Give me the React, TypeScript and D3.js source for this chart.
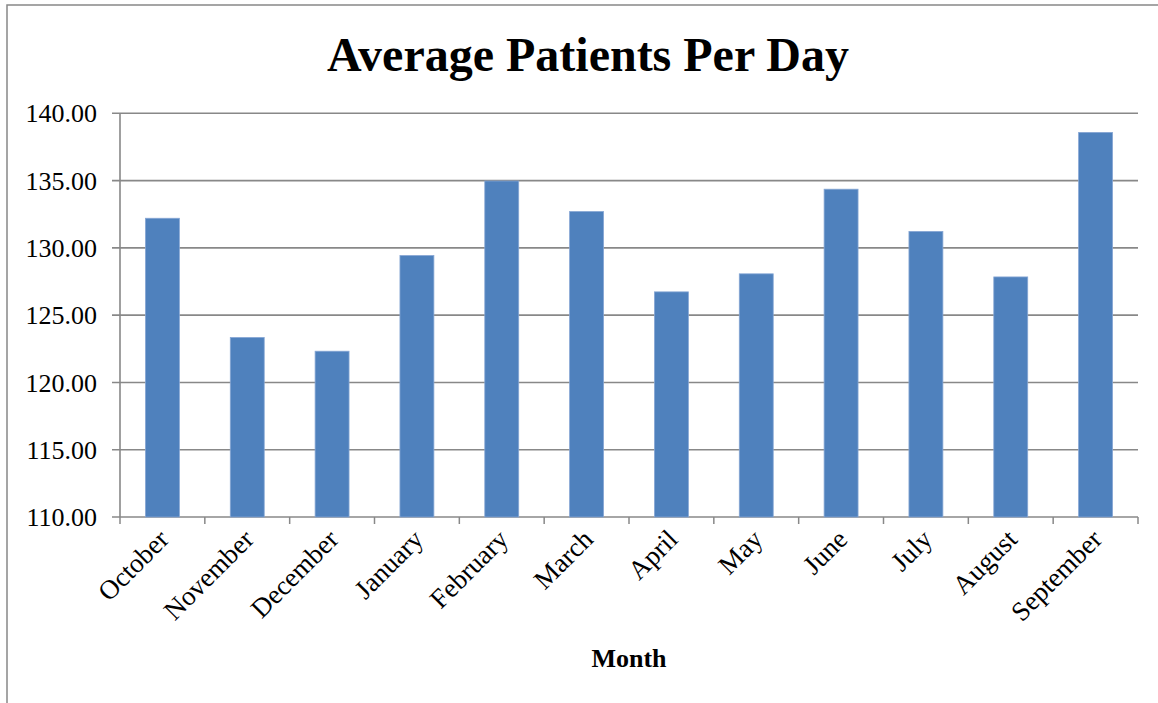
import React from "react";
import * as d3 from "d3";

const months = ["October", "November", "December", "January", "February", "March", "April", "May", "June", "July", "August", "September"];
const patients = [132.2, 123.34, 122.32, 129.43, 134.97, 132.7, 126.73, 128.07, 134.36, 131.22, 127.84, 138.58];
const yTicks = [110, 115, 120, 125, 130, 135, 140];
const title = "Average Patients Per Day";
const xTitle = "Month";

export default function App() {
  const W = 1158, H = 703;
  const left = 120, right = 1138, top = 113.3, bottom = 517;
  const x = d3.scaleBand<string>().domain(months).range([left, right]).paddingInner(0).paddingOuter(0);
  const y = d3.scaleLinear().domain([110, 140]).range([bottom, top]);
  const bw = x.bandwidth() * 0.4;
  const grid = "#888888";
  const font = "'Liberation Serif', 'Times New Roman', serif";
  return (
    <svg width={W} height={H} style={{ position: "absolute", left: 0, top: 0 }} fontFamily={font}>
      <rect x={0} y={0} width={W} height={H} fill="#fff" />
      <rect x={7} y={5} width={1170} height={720} fill="none" stroke={grid} strokeWidth={1.5} />
      <text x={588} y={71} textAnchor="middle" fontSize={48} fontWeight="bold">{title}</text>
      {yTicks.map((t) => (
        <g key={t}>
          <line x1={112} x2={right} y1={y(t)} y2={y(t)} stroke={grid} strokeWidth={1.6} />
          <text x={97} y={y(t)} dy="0.35em" textAnchor="end" fontSize={26}>{t.toFixed(2)}</text>
        </g>
      ))}
      <line x1={left} x2={left} y1={top} y2={bottom} stroke={grid} strokeWidth={1.6} />
      {months.map((m) => (
        <line key={"t" + m} x1={x(m)!} x2={x(m)!} y1={bottom} y2={bottom + 7} stroke={grid} strokeWidth={1.5} />
      ))}
      <line x1={right} x2={right} y1={bottom} y2={bottom + 7} stroke={grid} strokeWidth={1.5} />
      {months.map((m, i) => {
        const cx = x(m)! + x.bandwidth() / 2;
        return (
          <rect key={m} x={cx - bw / 2} y={y(patients[i])} width={bw} height={bottom - y(patients[i])}
            fill="#4F81BD" stroke="#86A6D4" strokeWidth={0.8} />
        );
      })}
      {months.map((m) => {
        const cx = x(m)! + x.bandwidth() / 2 + 8;
        const ty = bottom + 24;
        return (
          <text key={"l" + m} x={cx} y={ty} textAnchor="end" fontSize={27}
            transform={`rotate(-45, ${cx}, ${ty})`}>{m}</text>
        );
      })}
      <text x={(left + right) / 2} y={667} textAnchor="middle" fontSize={26} fontWeight="bold">{xTitle}</text>
    </svg>
  );
}
